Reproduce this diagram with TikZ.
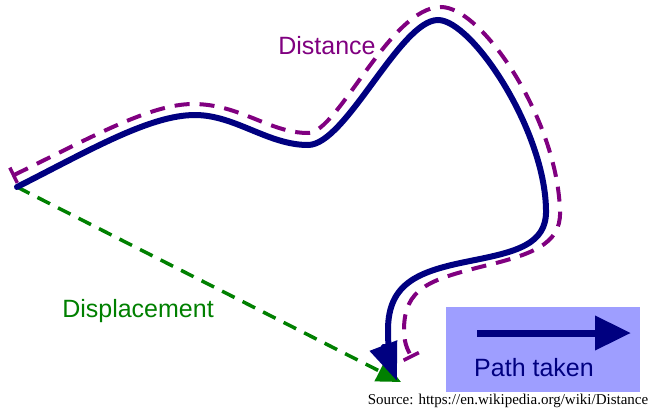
\documentclass[tikz,border=0pt]{standalone}
\usepackage{fontspec}
\setmainfont{Liberation Sans}
\newfontfamily\srcfont{Liberation Serif}
\usetikzlibrary{arrows.meta}
\definecolor{pathblue}{RGB}{0,0,128}
\definecolor{distpurple}{RGB}{128,0,128}
\definecolor{dispgreen}{RGB}{0,128,0}
\definecolor{legendfill}{RGB}{158,158,255}
\tikzset{
  lbl/.style={inner sep=0pt,font=\fontsize{25}{30}\selectfont},
  takenline/.style={pathblue,line width=6pt,line cap=round},
  distline/.style={distpurple,line width=4pt,dash pattern=on 15pt off 10pt},
  displine/.style={dispgreen,line width=3.5pt,dash pattern=on 14pt off 9pt}
}
\begin{document}
\begin{tikzpicture}[x=1pt,y=-1pt]
\path[use as bounding box] (0,0) rectangle (650,410);
\coordinate (start) at (17,187);
\coordinate (finish) at (401,382);

% displacement
\draw[displine,-{Triangle[length=24pt,width=22pt]}] (start) -- (finish);

% distance
\draw[distline,{Bar[width=17pt,line width=3.5pt]}-{Bar[width=17pt,line width=3.5pt]}]
  (12,176) .. controls (90,138) and (150,104) .. (193,104)
  .. controls (240,104) and (270,133) .. (308,133)
  .. controls (338,133) and (390,7) .. (441,7)
  .. controls (482,7) and (558,120) .. (560,212)
  .. controls (561,245) and (530,255) .. (480,267)
  .. controls (430,280) and (404,288) .. (404,330)
  .. controls (404,345) and (409,352) .. (412,358);

% path taken
\draw[takenline,-{Triangle[length=38pt,width=28pt]}]
  (start) .. controls (90,150) and (150,115) .. (195,115)
  .. controls (235,115) and (268,145) .. (308,145)
  .. controls (346,145) and (400,20) .. (438,20)
  .. controls (472,20) and (545,130) .. (546,210)
  .. controls (547,245) and (515,252) .. (470,261)
  .. controls (420,271) and (388,282) .. (388,330)
  .. controls (388,355) and (392,368) .. (397,381);

\node[lbl,text=distpurple] (distlbl) at (327,46) {Distance};
\node[lbl,text=dispgreen] (displbl) at (138,311) {Displacement};

% legend
\node[fill=legendfill,minimum width=194pt,minimum height=85pt,inner sep=0pt] (legend) at (543,349.5) {};
\coordinate (legl) at (477,333);
\coordinate (legr) at (631,333);
\draw[pathblue,line width=7pt,-{Triangle[length=36pt,width=33pt]}] (legl) -- (legr);
\node[lbl,text=pathblue] (legtxt) at (534,368) {Path taken};

\node[inner sep=0pt,font=\srcfont\fontsize{15}{18}\selectfont] (source) at (508,401) {Source: https://en.wikipedia.org/wiki/Distance};
\end{tikzpicture}
\end{document}
